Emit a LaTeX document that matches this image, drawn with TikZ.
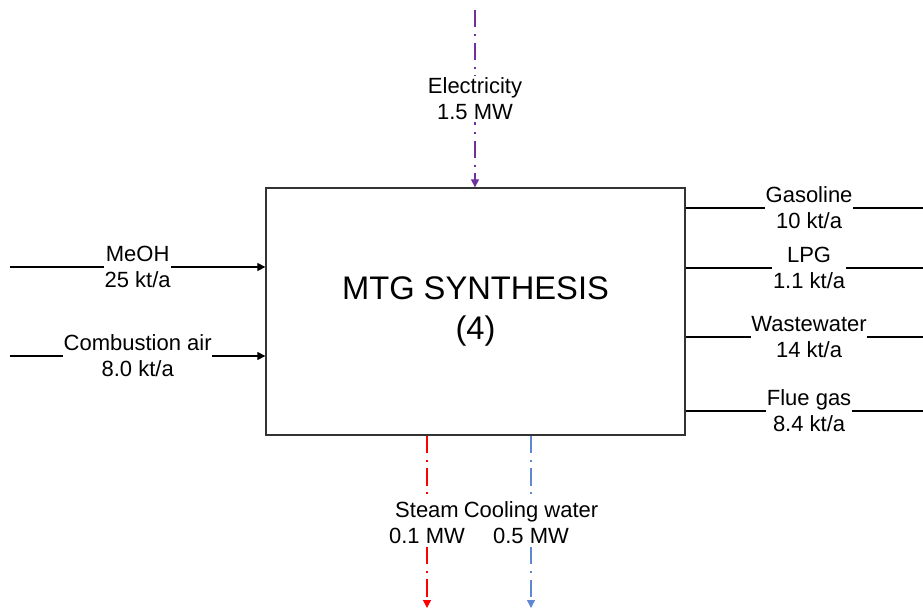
\documentclass[tikz,border=0pt]{standalone}
\usepackage{fontspec}
\setmainfont{Liberation Sans}
\usetikzlibrary{arrows.meta,positioning}
\definecolor{elecpurple}{RGB}{112,48,160}
\definecolor{steamred}{RGB}{255,0,0}
\definecolor{coolblue}{RGB}{95,135,210}

\begin{document}
\begin{tikzpicture}[
    x=0.75pt, y=-0.75pt,
    >={Triangle[length=6pt,width=6pt]},
    unit/.style={rectangle, draw=black!80, line width=1.2pt,
                 minimum width=314pt, minimum height=185pt,
                 align=center, font=\fontsize{24.5}{30}\selectfont},
    stream/.style={line width=0.9pt},
    arr/.style={stream, ->},
    util/.style={line width=0.9pt,
                 dash pattern=on 13pt off 5pt on 1.5pt off 5pt},
    lbl/.style={fill=white, inner xsep=0.5pt, inner ysep=1.5pt,
                align=center, font=\fontsize{16.5}{19.5}\selectfont},
    plainlbl/.style={inner xsep=0pt, inner ysep=2pt,
                align=center, font=\fontsize{16.5}{19.5}\selectfont}
  ]
  \useasboundingbox (0,0) rectangle (923,610);

  \node[unit] (mtg) at (475.5,311.5) {MTG SYNTHESIS\\(4)};

  % inputs
  \coordinate (meoh) at (10,267);
  \coordinate (air) at (10,356);
  \draw[arr] (meoh) -- (meoh -| mtg.west)
    node[lbl, midway] (lmeoh) {MeOH\\25 kt/a};
  \draw[arr] (air) -- (air -| mtg.west)
    node[lbl, midway] (lair) {Combustion air\\8.0 kt/a};

  % outputs
  \coordinate (gasoline) at (923,208);
  \coordinate (lpg) at (923,268);
  \coordinate (wastewater) at (923,337);
  \coordinate (flue) at (923,411);
  \draw[stream] (gasoline -| mtg.east) -- (gasoline)
    node[lbl, pos=0.52] (lgas) {Gasoline\\10 kt/a};
  \draw[stream] (lpg -| mtg.east) -- (lpg)
    node[lbl, pos=0.52] (llpg) {LPG\\1.1 kt/a};
  \draw[stream] (wastewater -| mtg.east) -- (wastewater)
    node[lbl, pos=0.52] (lww) {Wastewater\\14 kt/a};
  \draw[stream] (flue -| mtg.east) -- (flue)
    node[lbl, pos=0.52] (lflue) {Flue gas\\8.4 kt/a};

  % utilities
  \coordinate (elec) at (475,10);
  \draw[util, ->, elecpurple] (elec) -- (elec |- mtg.north)
    node[lbl, text=black, midway] (lelec) {Electricity\\1.5 MW};

  \node[plainlbl] (lsteam) at (427,523) {Steam\\0.1 MW};
  \node[plainlbl] (lcool) at (531,523) {Cooling water\\0.5 MW};
  \coordinate (steam) at (427,608);
  \coordinate (cool) at (531,608);
  \draw[util, steamred] (lsteam |- mtg.south) -- (lsteam.north);
  \draw[util, ->, steamred] (lsteam.south) -- (steam);
  \draw[util, coolblue] (lcool |- mtg.south) -- (lcool.north);
  \draw[util, ->, coolblue] (lcool.south) -- (cool);
\end{tikzpicture}
\end{document}
